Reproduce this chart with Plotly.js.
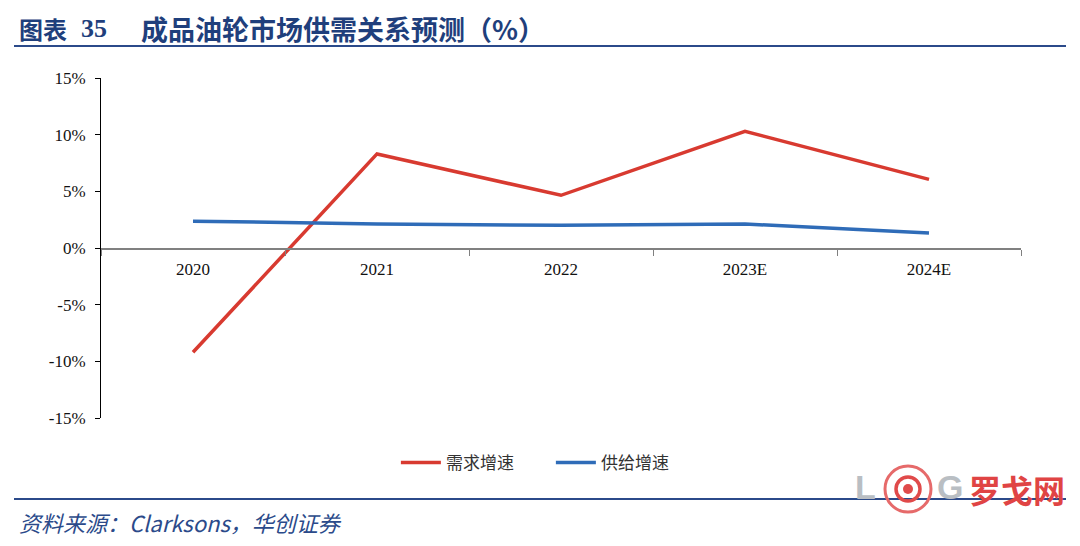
<!DOCTYPE html>
<html>
<head>
<meta charset="utf-8">
<script src="https://cdn.plot.ly/plotly-3.0.1.min.js"></script>
<style>html,body{margin:0;padding:0;background:#fff;}#chart{width:1080px;height:546px;}</style>
</head>
<body>
<div id="chart"></div>
<script>
var categories = ['2020', '2021', '2022', '2023E', '2024E'];
var demandGrowth = [-9.2, 8.3, 4.65, 10.3, 6.05];
var supplyGrowth = [2.37, 2.12, 2.0, 2.12, 1.32];
var seriesNames = ['需求增速', '供给增速'];
var yTickValues = [-15, -10, -5, 0, 5, 10, 15];
var yTickLabels = ['-15%', '-10%', '-5%', '0%', '5%', '10%', '15%'];
var titleLabel = '图表';
var titleNumber = '35';
var titleText = '成品油轮市场供需关系预测（%）';
var sourceText = '资料来源：Clarksons，华创证券';

var W = 1080, H = 546, ML = 101, MR = 59, MT = 78, MB = 128;
var PW = W - ML - MR, PH = H - MT - MB;
function px(x) { return (x - ML) / PW; }
function py(y) { return (H - MB - y) / PH; }

var serif = '"Liberation Serif", "Times New Roman", serif';
var cjk = '"Noto Sans CJK SC", "Noto Sans", sans-serif';
var navy = '#1f3f7c';

var traces = [
  {x: categories, y: demandGrowth, name: seriesNames[0], type: 'scatter', mode: 'lines',
   line: {color: '#d83a30', width: 3.5}},
  {x: categories, y: supplyGrowth, name: seriesNames[1], type: 'scatter', mode: 'lines',
   line: {color: '#2f6cb8', width: 3.5}}
];

var shapes = [
  {type: 'line', xref: 'paper', yref: 'paper', x0: px(14), x1: px(1066), y0: py(46), y1: py(46),
   line: {color: '#2b4a8a', width: 2}},
  {type: 'line', xref: 'paper', yref: 'paper', x0: px(14), x1: px(1066), y0: py(499), y1: py(499),
   line: {color: '#2b4a8a', width: 2}}
];
// logo rings
var cx = 908, cy = 489;
[[5, 0, '#e04a4a'], [12, 3.5, '#e04a4a'], [23, 3, '#e66a6a']].forEach(function (r, i) {
  shapes.push({type: 'circle', xref: 'paper', yref: 'paper', layer: 'above',
    x0: px(cx - r[0]), x1: px(cx + r[0]), y0: py(cy + r[0]), y1: py(cy - r[0]),
    fillcolor: i === 0 ? r[2] : 'rgba(0,0,0,0)',
    line: {color: r[2], width: i === 0 ? 0 : r[1]}});
});

var annotations = [
  {xref: 'paper', yref: 'paper', x: px(17), y: py(28), xanchor: 'left', yanchor: 'middle', showarrow: false,
   text: '<b>' + titleLabel + '</b>', font: {family: cjk, size: 24, color: navy}},
  {xref: 'paper', yref: 'paper', x: px(79), y: py(28), xanchor: 'left', yanchor: 'middle', showarrow: false,
   text: '<b>' + titleNumber + '</b>', font: {family: serif, size: 26, color: navy}},
  {xref: 'paper', yref: 'paper', x: px(139), y: py(28), xanchor: 'left', yanchor: 'middle', showarrow: false,
   text: '<b>' + titleText + '</b>', font: {family: cjk, size: 27, color: navy}},
  {xref: 'paper', yref: 'paper', x: px(17), y: py(522), xanchor: 'left', yanchor: 'middle', showarrow: false,
   text: '<i>' + sourceText + '</i>', font: {family: cjk, size: 22, color: '#2b4a8a'}},
  {xref: 'paper', yref: 'paper', x: px(853), y: py(487), xanchor: 'left', yanchor: 'middle', showarrow: false,
   text: '<b>L</b>', font: {family: '"Liberation Sans", Arial, sans-serif', size: 34, color: '#b9bec3'}},
  {xref: 'paper', yref: 'paper', x: px(935), y: py(487), xanchor: 'left', yanchor: 'middle', showarrow: false,
   text: '<b>G</b>', font: {family: '"Liberation Sans", Arial, sans-serif', size: 34, color: '#b9bec3'}},
  {xref: 'paper', yref: 'paper', x: px(967), y: py(489), xanchor: 'left', yanchor: 'middle', showarrow: false,
   text: '<b>罗戈网</b>', font: {family: cjk, size: 32, color: '#e04444'}}
];

var layout = {
  width: W, height: H,
  margin: {l: ML, r: MR, t: MT, b: MB, pad: 0},
  paper_bgcolor: '#ffffff', plot_bgcolor: '#ffffff',
  showlegend: true,
  legend: {orientation: 'h', x: 0.489, xanchor: 'center', y: py(463), yanchor: 'middle',
    font: {family: cjk, size: 17, color: '#333333'}, itemwidth: 40, entrywidth: 100},
  xaxis: {type: 'category', range: [-0.5, 4.5], anchor: 'free', position: 0.5,
    showline: true, linecolor: '#808080', linewidth: 1.5,
    ticks: 'outside', tickson: 'boundaries', ticklen: 6, tickcolor: '#808080', tickwidth: 1,
    showgrid: false, zeroline: false, ticklabelstandoff: 5,
    tickfont: {family: serif, size: 17, color: '#111111'}},
  yaxis: {range: [-15, 15], tickvals: yTickValues, ticktext: yTickLabels,
    showline: true, linecolor: '#000000', linewidth: 1,
    ticks: 'outside', ticklen: 5, tickcolor: '#000000',
    showgrid: false, zeroline: false, ticklabelstandoff: 6,
    tickfont: {family: serif, size: 17, color: '#111111'}},
  shapes: shapes,
  annotations: annotations
};

Plotly.newPlot('chart', traces, layout, {displayModeBar: false, staticPlot: true});
</script>
</body>
</html>
